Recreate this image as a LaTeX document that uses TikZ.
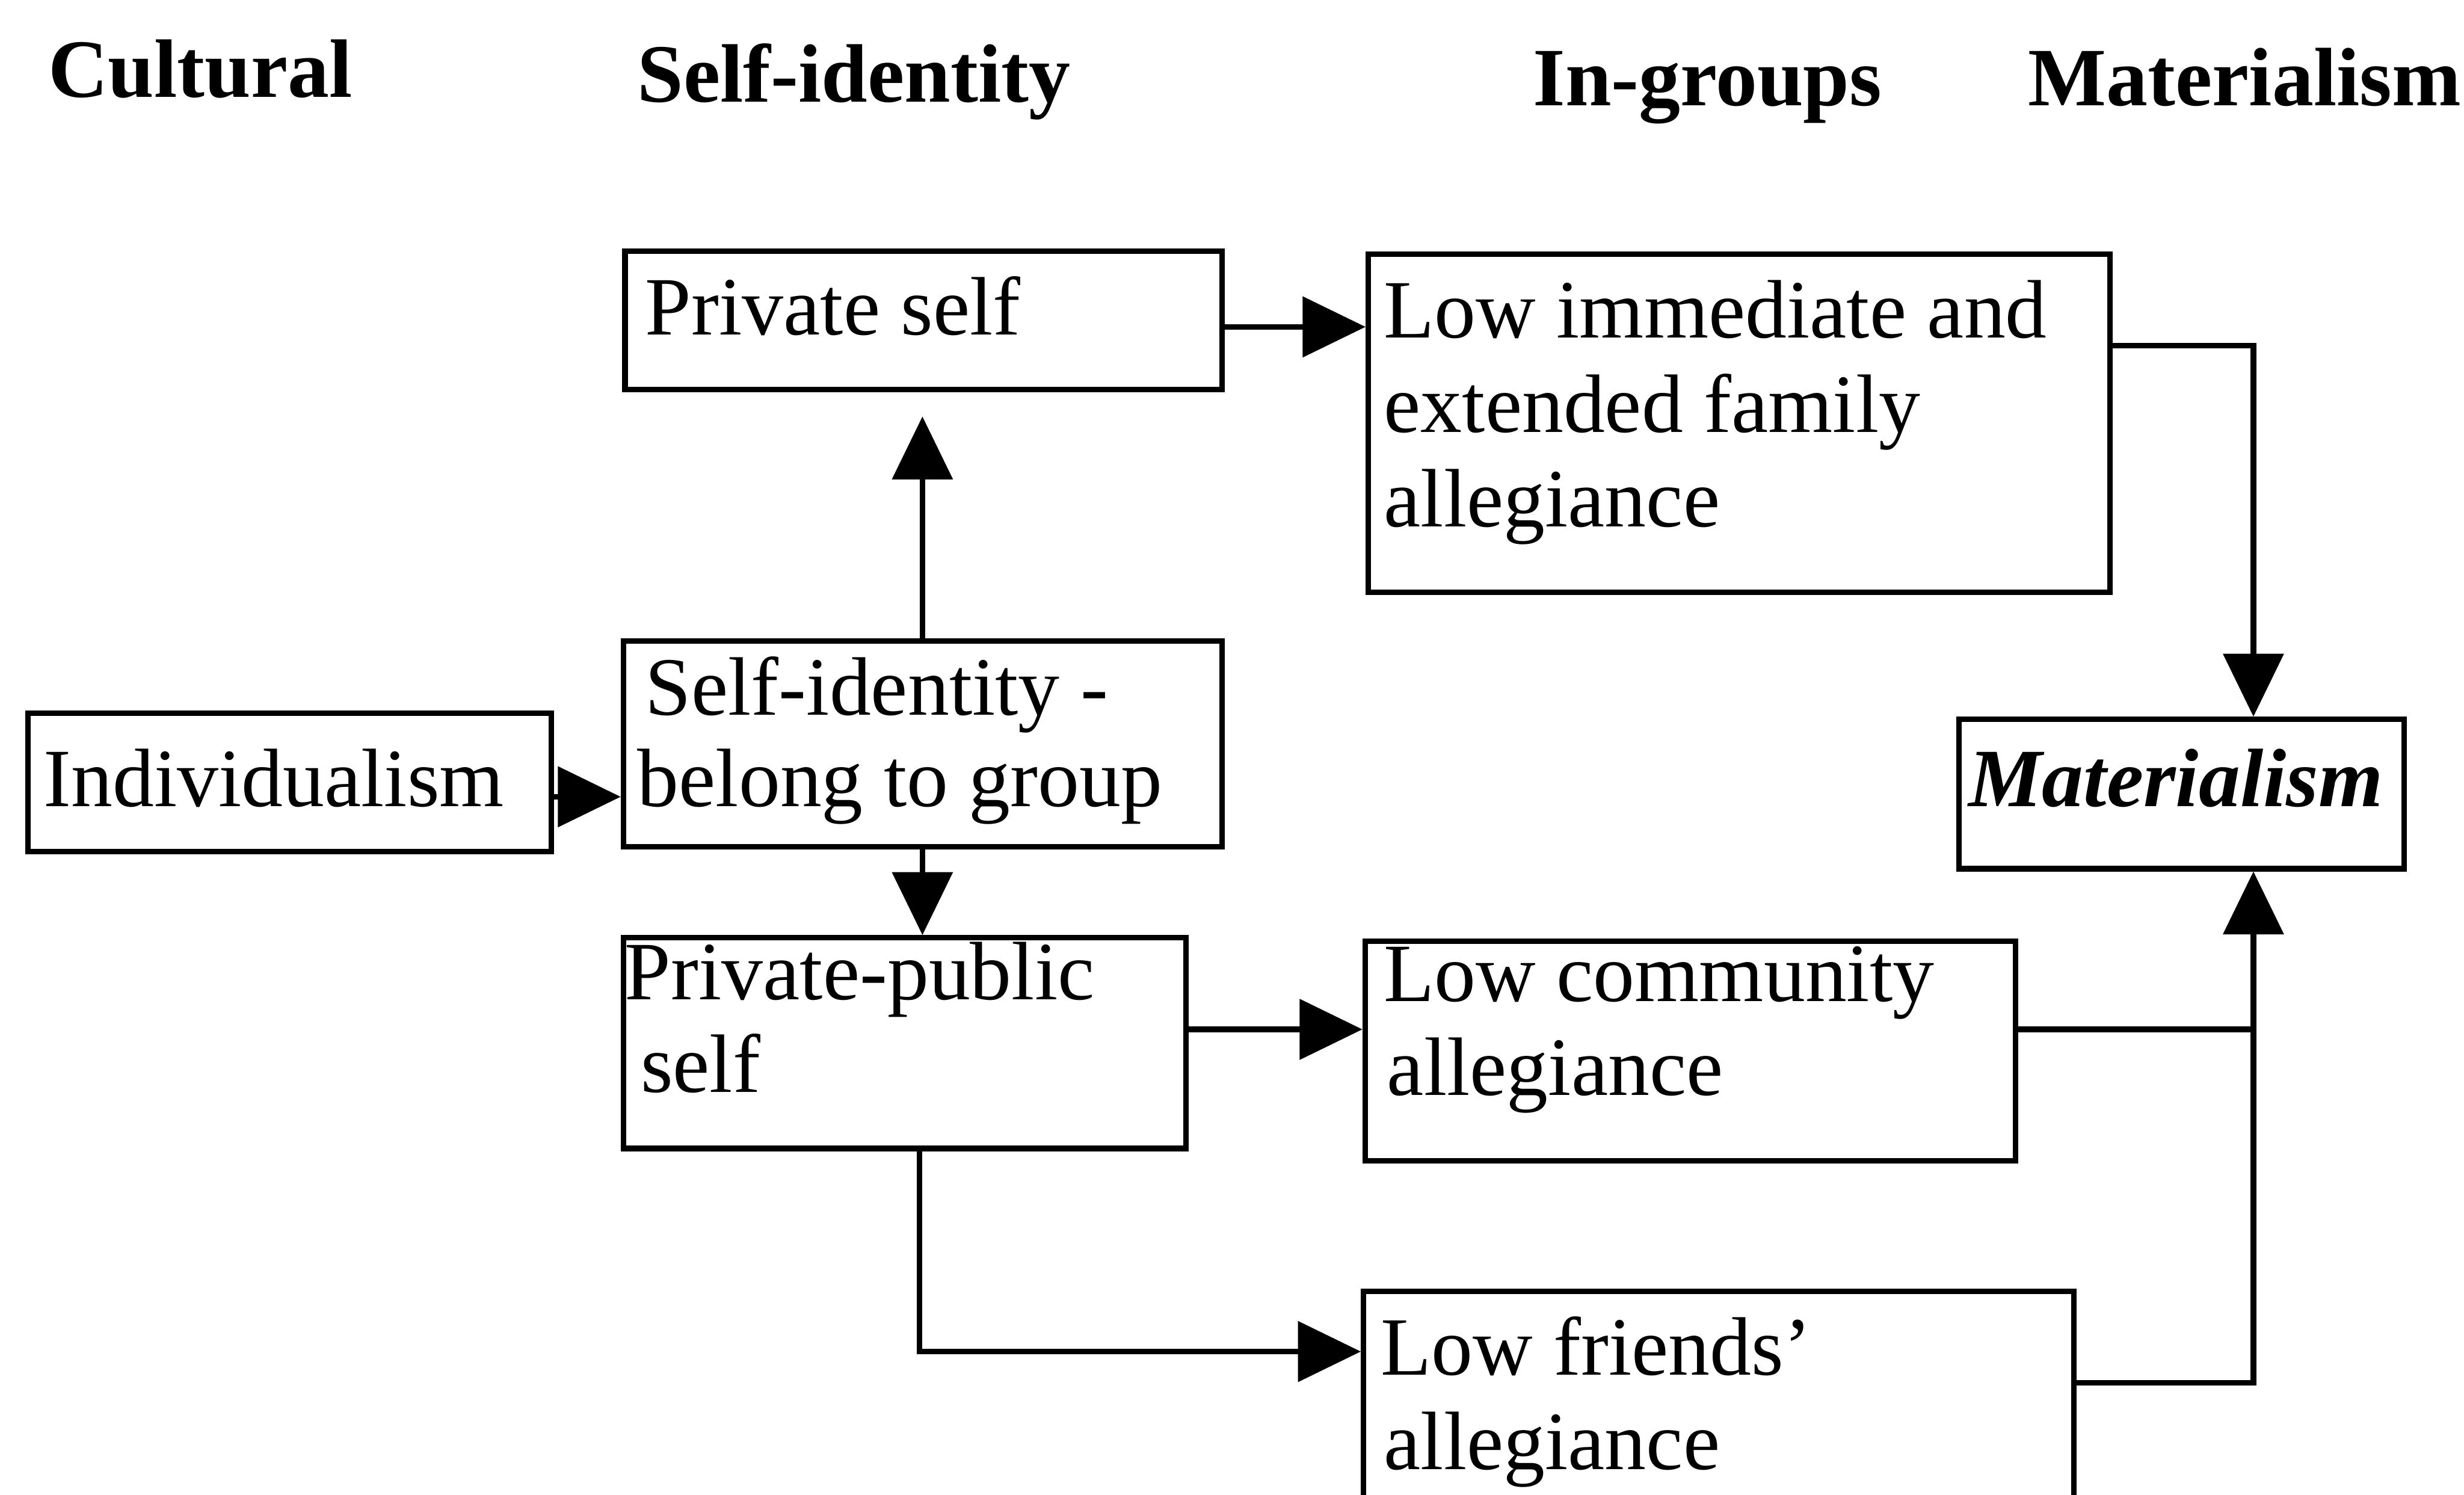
\documentclass[tikz,border=0pt]{standalone}
\usepackage{fontspec}
\setmainfont{Liberation Serif}
\usetikzlibrary{arrows.meta}
\begin{document}
\begin{tikzpicture}[x=0.01cm,y=-0.01cm,
  box/.style={draw,line width=1pt,inner sep=0pt,anchor=north west},
  txt/.style={anchor=base west,inner sep=0pt,font=\fontsize{15}{17}\selectfont},
  head/.style={anchor=base west,inner sep=0pt,font=\fontsize{15}{17}\selectfont\bfseries},
  conn/.style={line width=1pt},
  arr/.style={line width=1pt,-{Triangle[length=0.4cm,width=0.38cm]}}]
\useasboundingbox (0,0) rectangle (1568,951);

% column headings
\node[head] (hcult) at (30,62) {Cultural};
\node[head] (hself) at (405,65) {Self-identity};
\node[head] (hin) at (975,67) {In-groups};
\node[head] (hmat) at (1290,67) {Materialism};

% boxes
\node[box,minimum width=380*0.01cm,minimum height=88*0.01cm] (ps) at (396,158) {};
\node[box,minimum width=472*0.01cm,minimum height=215*0.01cm] (lo) at (869,160) {};
\node[box,minimum width=381*0.01cm,minimum height=131*0.01cm] (si) at (395,406) {};
\node[box,minimum width=333*0.01cm,minimum height=88*0.01cm] (ind) at (16,452) {};
\node[box,minimum width=283*0.01cm,minimum height=95*0.01cm] (mat) at (1245,456) {};
\node[box,minimum width=358*0.01cm,minimum height=134*0.01cm] (pp) at (395,595) {};
\node[box,minimum width=414*0.01cm,minimum height=140*0.01cm] (lc) at (867,597) {};
\node[box,minimum width=452*0.01cm,minimum height=160*0.01cm] (lf) at (866,820) {};

% box texts
\node[txt] (tps) at (410,213) {Private self};
\node[txt] (tlo1) at (880,215) {Low immediate and};
\node[txt] (tlo2) at (880,275) {extended family};
\node[txt] (tlo3) at (880,335) {allegiance};
\node[txt] (tsi1) at (410,455) {Self-identity -};
\node[txt] (tsi2) at (405,513) {belong to group};
\node[txt] (tind) at (27,513) {Individualism};
\node[txt,font=\fontsize{15}{17}\selectfont\bfseries\itshape] (tmat) at (1252,513) {Materialism};
\node[txt] (tpp1) at (397,636) {Private-public};
\node[txt] (tpp2) at (407,695) {self};
\node[txt] (tlc1) at (880,637) {Low community};
\node[txt] (tlc2) at (882,697) {allegiance};
\node[txt] (tlf1) at (878,875) {Low friends’};
\node[txt] (tlf2) at (880,935) {allegiance};

% connectors
\coordinate (psin) at (587,265);
\coordinate (jn) at (1434,655);
\draw[arr] (ps.east |- 0,208) -- (lo.west |- 0,208);
\draw[arr] (si.north -| 587,0) -- (psin);
\draw[arr] (ind.east |- 0,507) -- (si.west |- 0,507);
\draw[arr] (si.south -| 587,0) -- (pp.north -| 587,0);
\draw[arr] (pp.east |- 0,655) -- (lc.west |- 0,655);
\draw[arr] (pp.south -| 585,0) |- (lf.west |- 0,860);
\draw[arr] (lo.east |- 0,220) -| (mat.north -| 1434,0);
\draw[conn] (lc.east |- jn) -- (jn);
\draw[arr] (lf.east |- 0,880) -| (mat.south -| 1434,0);
\end{tikzpicture}
\end{document}
